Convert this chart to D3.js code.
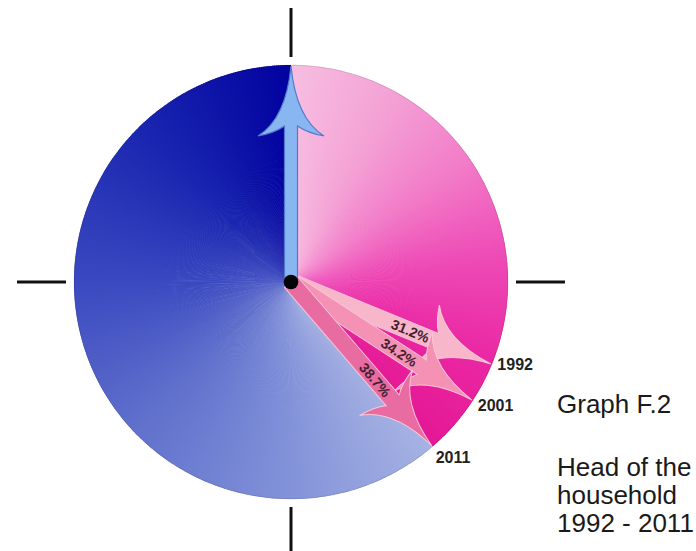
<!DOCTYPE html>
<html><head><meta charset="utf-8">
<script src="https://cdn.jsdelivr.net/npm/d3@7"></script>
<style>body{margin:0;background:#fff} svg{display:block}</style>
</head><body><svg id="chart" width="696" height="551"></svg>
<script>
// ---- data ----
const years = ["1992", "2001", "2011"];
const shares = [31.2, 34.2, 38.7];          // % share per year
const pieValues = [38.7, 61.3];             // pink slice (2011 share), remainder
const titleText = "Graph F.2";
const subtitleLines = ["Head of the", "household", "1992 - 2011"];
const axisMarks = [0, 25, 50, 75];          // % positions of the four outer marks

// ---- styles ----
const pinkStops = ["#f7bde0", "#f4a2d6", "#f27cc8", "#ee4ab6", "#ea28a4", "#e41894"];
const blueStops = ["#a6b2e3", "#8090d8", "#6070cc", "#3a48c0", "#1a26b0", "#0303a0"];
const arrowFills = ["#f8b6ca", "#f491b4", "#e86ba1"];

const W = 696, H = 551, cx = 291, cy = 282, R = 217;
const svg = d3.select("#chart");
const g = svg.append("g").attr("transform", `translate(${cx},${cy})`);

const ang = d3.scaleLinear().domain([0, 100]).range([0, 2 * Math.PI]);
const polar = (r, a) => [r * Math.sin(a), -r * Math.cos(a)];

// ---- pie with conic gradient (thin overlapping sub-slices) ----
const pie = d3.pie().sort(null).value(d => d)(pieValues);
const arc = d3.arc().innerRadius(0).outerRadius(R);
const interps = [d3.piecewise(d3.interpolateRgb, pinkStops), d3.piecewise(d3.interpolateRgb, blueStops)];
pie.forEach((sl, k) => {
  const step = Math.PI / 360;
  const n = Math.ceil((sl.endAngle - sl.startAngle) / step);
  const st = (sl.endAngle - sl.startAngle) / n;
  const pieces = d3.range(n).map(i => ({
    startAngle: sl.startAngle + i * st,
    endAngle: Math.min(sl.endAngle, sl.startAngle + (i + 1) * st + 0.006),
    t: i / (n - 1)
  }));
  g.append("g").selectAll("path").data(pieces).join("path")
    .attr("d", arc)
    .attr("fill", d => interps[k](d.t));
});
g.append("circle").attr("r", R).attr("fill", "none")
  .attr("stroke", "rgba(0,0,0,0.12)").attr("stroke-width", 1);

// ---- outer marks ----
g.selectAll("line.mark").data(axisMarks).join("line")
  .attr("class", "mark")
  .attr("x1", d => polar(225, ang(d))[0]).attr("y1", d => polar(225, ang(d))[1])
  .attr("x2", d => polar(274, ang(d))[0]).attr("y2", d => polar(274, ang(d))[1])
  .attr("stroke", "#111").attr("stroke-width", 3);

// ---- arrow shape (local, pointing along +x) ----
function arrowPath(L, hw, hl, hh) {
  const p = d3.path();
  p.moveTo(0, -hw);
  p.lineTo(L - hl + 10, -hw);
  p.quadraticCurveTo(L - hl + 3, -hw - 10, L - hl, -hh);
  p.quadraticCurveTo(L - hl * 0.75, -5, L, 0);
  p.quadraticCurveTo(L - hl * 0.75, 5, L - hl, hh);
  p.quadraticCurveTo(L - hl + 3, hw + 10, L - hl + 10, hw);
  p.lineTo(0, hw);
  p.closePath();
  return p.toString();
}
const deg = a => a * 180 / Math.PI - 90;

// pink arrows
const arrows = g.append("g").selectAll("g").data(shares).join("g")
  .attr("transform", d => `rotate(${deg(ang(d))})`);
arrows.append("path")
  .attr("d", arrowPath(R - 1, 8.5, 70, 35))
  .attr("fill", (d, i) => arrowFills[i])
  .attr("stroke", "#f9c6d8").attr("stroke-width", 1);
arrows.append("text")
  .attr("x", 129).attr("y", 0)
  .attr("text-anchor", "middle").attr("dominant-baseline", "central")
  .attr("font-family", "Liberation Sans, Arial, sans-serif")
  .attr("font-size", 14).attr("font-weight", "bold")
  .attr("fill", "#42202f")
  .text(d => d + "%");

// blue arrow (start of the pie)
g.append("path")
  .attr("transform", `rotate(${deg(ang(0))})`)
  .attr("d", arrowPath(R - 1, 6.5, 70, 33))
  .attr("fill", "#88b6f0").attr("stroke", "#5478cc").attr("stroke-width", 1.2);

// centre dot
g.append("circle").attr("r", 7.3).attr("fill", "#050505");

// year labels
g.selectAll("text.year").data(years).join("text")
  .attr("class", "year")
  .attr("x", (d, i) => polar(R + 22, ang(shares[i]) - 0.035)[0])
  .attr("y", (d, i) => polar(R + 22, ang(shares[i]) - 0.035)[1])
  .attr("text-anchor", "middle").attr("dominant-baseline", "central")
  .attr("font-family", "Liberation Sans, Arial, sans-serif")
  .attr("font-size", 16).attr("font-weight", "bold")
  .attr("fill", "#222")
  .text(d => d);

// ---- caption ----
const cap = svg.append("g")
  .attr("font-family", "Liberation Sans, Arial, sans-serif")
  .attr("font-size", 26).attr("fill", "#1a1a1a");
cap.append("text").attr("x", 557).attr("y", 413).text(titleText);
cap.selectAll("text.sub").data(subtitleLines).join("text")
  .attr("class", "sub")
  .attr("x", 557).attr("y", (d, i) => 476 + i * 28)
  .text(d => d);
</script></body></html>
